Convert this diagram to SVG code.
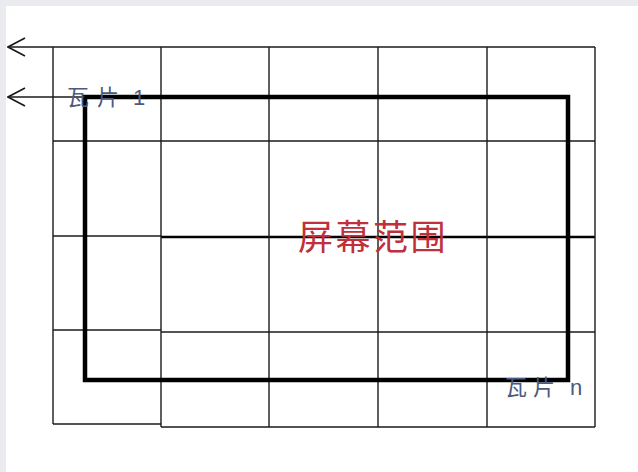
<svg xmlns="http://www.w3.org/2000/svg" width="638" height="472" viewBox="0 0 638 472">
<style>
.g{stroke:#1a1a1a;stroke-width:1.4;fill:none}
.thick{stroke:#000;stroke-width:4.5;fill:none}
.lbl{font-family:"Liberation Sans","Noto Sans CJK SC",sans-serif;font-size:22px;fill:#4a5a80}
.red{font-family:"Noto Sans CJK SC",sans-serif;font-size:35px;fill:#c0303a;letter-spacing:2.5px}
.arr{stroke:#1a1a1a;stroke-width:1.4;fill:none}
</style>
<defs>
<marker id="open" viewBox="0 0 20 20" refX="19" refY="10" markerWidth="20" markerHeight="20" markerUnits="userSpaceOnUse" orient="auto">
<polyline points="2,1 19,10 2,19" fill="none" stroke="#1a1a1a" stroke-width="1.6"/>
</marker>
</defs>
<rect x="0" y="0" width="638" height="472" fill="#eaebef"/>
<rect x="6" y="6" width="632" height="466" fill="#ffffff"/>
<g id="grid">
<line class="g" x1="53" y1="47" x2="595" y2="47"/>
<line class="g" x1="53" y1="141" x2="595" y2="141"/>
<line class="g" x1="53" y1="236" x2="161" y2="236"/>
<line x1="161" y1="237" x2="595" y2="237" stroke="#000" stroke-width="2.6"/>
<line class="g" x1="53" y1="330" x2="161" y2="330"/>
<line class="g" x1="161" y1="332" x2="595" y2="332"/>
<line class="g" x1="53" y1="424" x2="161" y2="424"/>
<line class="g" x1="161" y1="427" x2="595" y2="427"/>
<line class="g" x1="53" y1="47" x2="53" y2="424"/>
<line class="g" x1="161" y1="47" x2="161" y2="427"/>
<line class="g" x1="269" y1="47" x2="269" y2="427"/>
<line class="g" x1="378" y1="47" x2="378" y2="427"/>
<line class="g" x1="487" y1="47" x2="487" y2="427"/>
<line class="g" x1="595" y1="47" x2="595" y2="427"/>
</g>
<g id="screen">
<rect class="thick" x="85" y="97" width="483" height="283"/>
<text class="red" x="298" y="250">屏幕范围</text>
</g>
<g id="connectors">
<line class="arr" x1="53" y1="47" x2="8" y2="47" marker-end="url(#open)"/>
<line class="arr" x1="85" y1="97" x2="8" y2="97" marker-end="url(#open)"/>
</g>
<g id="tile1">
<text class="lbl" y="105"><tspan x="67">瓦</tspan><tspan x="97">片</tspan><tspan x="133">1</tspan></text>
</g>
<g id="tilen">
<text class="lbl" y="395"><tspan x="505">瓦</tspan><tspan x="533">片</tspan><tspan x="570">n</tspan></text>
</g>
</svg>
